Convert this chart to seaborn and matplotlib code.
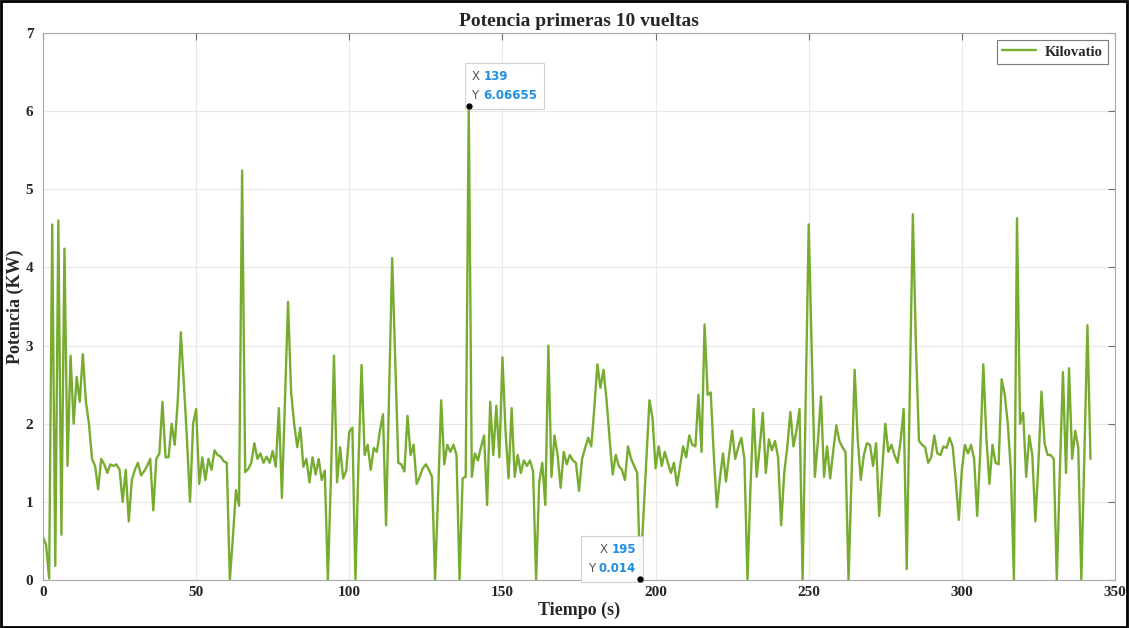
import numpy as np
import pandas as pd
import matplotlib
matplotlib.use("Agg")
import matplotlib.pyplot as plt
import seaborn as sns
from matplotlib.offsetbox import TextArea, HPacker, VPacker, AnnotationBbox
from matplotlib.patches import Rectangle

# Power sampled once per second over the first 10 laps
tiempo = np.arange(0, 343)
potencia = [
    0.55, 0.45, 0.02, 4.55, 0.18, 4.6, 0.58, 4.24, 1.46, 2.87,
    2.0, 2.6, 2.28, 2.89, 2.28, 2.0, 1.55, 1.46, 1.16, 1.55,
    1.48, 1.37, 1.48, 1.46, 1.48, 1.41, 1.0, 1.41, 0.75, 1.28,
    1.41, 1.5, 1.34, 1.39, 1.46, 1.55, 0.89, 1.55, 1.62, 2.28,
    1.57, 1.57, 2.0, 1.73, 2.3, 3.17, 2.5, 1.8, 1.0, 2.0,
    2.19, 1.23, 1.57, 1.28, 1.55, 1.41, 1.66, 1.6, 1.58, 1.52,
    1.5, 0.0, 0.55, 1.15, 0.95, 5.24, 1.38, 1.42, 1.5, 1.75,
    1.55, 1.62, 1.5, 1.58, 1.5, 1.65, 1.45, 2.2, 1.05, 2.3,
    3.56, 2.4, 2.0, 1.7, 1.95, 1.45, 1.55, 1.25, 1.57, 1.35,
    1.55, 1.28, 1.4, 0.0, 1.3, 2.87, 1.25, 1.7, 1.3, 1.4,
    1.9, 1.95, 0.0, 1.5, 2.75, 1.6, 1.73, 1.41, 1.69, 1.64,
    1.91, 2.12, 0.7, 2.4, 4.12, 2.8, 1.5, 1.48, 1.39, 2.1,
    1.6, 1.73, 1.23, 1.32, 1.43, 1.48, 1.41, 1.32, 0.0, 1.1,
    2.3, 1.48, 1.73, 1.64, 1.73, 1.6, 0.0, 1.3, 1.32, 6.06655,
    1.32, 1.62, 1.53, 1.7, 1.85, 0.96, 2.28, 1.6, 2.23, 1.57,
    2.85, 1.91, 1.3, 2.2, 1.32, 1.6, 1.37, 1.53, 1.46, 1.53,
    1.39, 0.0, 1.25, 1.5, 0.96, 3.0, 1.32, 1.85, 1.6, 1.18,
    1.64, 1.48, 1.6, 1.53, 1.5, 1.14, 1.55, 1.69, 1.82, 1.71,
    2.2, 2.76, 2.46, 2.69, 2.3, 1.8, 1.35, 1.6, 1.46, 1.41,
    1.28, 1.71, 1.55, 1.46, 1.37, 0.014, 0.8, 1.55, 2.3, 2.07,
    1.43, 1.71, 1.46, 1.64, 1.5, 1.37, 1.5, 1.21, 1.46, 1.71,
    1.57, 1.85, 1.73, 1.71, 2.37, 1.64, 3.27, 2.37, 2.4, 1.6,
    0.93, 1.3, 1.62, 1.26, 1.6, 1.91, 1.55, 1.7, 1.82, 1.55,
    0.0, 1.2, 2.19, 1.32, 1.7, 2.14, 1.37, 1.8, 1.66, 1.78,
    1.57, 0.7, 1.37, 1.7, 2.15, 1.71, 1.91, 2.19, 0.0, 2.3,
    4.55, 2.9, 1.32, 1.78, 2.35, 1.32, 1.71, 1.3, 1.65, 1.98,
    1.78, 1.7, 1.64, 0.0, 1.35, 2.69, 1.8, 1.28, 1.6, 1.75,
    1.73, 1.46, 1.75, 0.82, 1.4, 2.0, 1.64, 1.73, 1.6, 1.5,
    1.78, 2.19, 0.14, 2.4, 4.68, 3.0, 1.78, 1.73, 1.7, 1.5,
    1.57, 1.85, 1.62, 1.6, 1.71, 1.69, 1.82, 1.71, 1.28, 0.77,
    1.41, 1.73, 1.62, 1.73, 1.55, 0.82, 1.64, 2.76, 1.82, 1.23,
    1.73, 1.5, 1.48, 2.57, 2.37, 2.0, 1.4, 0.0, 4.63, 2.0,
    2.14, 1.32, 1.85, 1.6, 0.75, 1.5, 2.41, 1.75, 1.6, 1.6,
    1.55, 0.0, 1.4, 2.66, 1.37, 2.71, 1.55, 1.91, 1.7, 0.0,
    1.6, 3.26, 1.55,
]
# Highlighted samples (data tips)
tip_x = [139, 195]

x_ticks = [0, 50, 100, 150, 200, 250, 300, 350]
y_ticks = [0, 1, 2, 3, 4, 5, 6, 7]

sns.set_style("white")
plt.rcParams["font.family"] = ["Liberation Serif", "DejaVu Serif"]

fig = plt.figure(figsize=(11.29, 6.28), dpi=100)
ax = fig.add_axes([0.0381, 0.0764, 0.9495, 0.8711])

df = pd.DataFrame({"Tiempo": tiempo, "Potencia": potencia})
sns.lineplot(data=df, x="Tiempo", y="Potencia", ax=ax, color="#77AC30",
             linewidth=1.7, label="Kilovatio")

ax.set_xlim(0, 350)
ax.set_ylim(0, 7)
ax.set_xticks(x_ticks)
ax.set_yticks(y_ticks)
ax.grid(True, color="#e9e9e9", linewidth=0.8)
for s in ax.spines.values():
    s.set_color("#a8a8a8")
    s.set_linewidth(0.8)
ax.tick_params(direction="in", length=5, top=True, right=True,
               color="#6e6e6e", labelsize=11)
ax.tick_params(axis="y", pad=7)
ax.tick_params(axis="x", pad=4)
for lab in ax.get_xticklabels() + ax.get_yticklabels():
    lab.set_fontweight("bold")

ax.set_title("Potencia primeras 10 vueltas", fontsize=14, fontweight="bold", pad=5)
ax.set_xlabel("Tiempo (s)", fontsize=13, fontweight="bold", labelpad=2)
ax.set_ylabel("Potencia (KW)", fontsize=13, fontweight="bold", labelpad=1)

leg = ax.legend(loc="upper right", frameon=True, fancybox=False,
                edgecolor="#5a5a5a", handlelength=2.3, handletextpad=0.6,
                borderpad=0.35, prop={"weight": "bold", "size": 10.5})
leg.get_frame().set_linewidth(0.8)

# Data tips
tip_y = [potencia[list(tiempo).index(t)] for t in tip_x]

tip_font = dict(family=["DejaVu Sans"], size=8.5)
placements = [((0, 0), (2, 3), "left"), ((1, 0), (-3, 3), "right")]
for (tx, ty), (align_box, offset, align_txt) in zip(zip(tip_x, tip_y), placements):
    rows = []
    for name, val in (("X", f"{tx:g}"), ("Y", f"{ty:g}")):
        rows.append(HPacker(children=[
            TextArea(name, textprops=dict(color="#555555", **tip_font)),
            TextArea(val, textprops=dict(color="#1f8fe6", fontweight="bold", **tip_font)),
        ], align="baseline", pad=0, sep=3))
    box = VPacker(children=rows, align=align_txt, pad=0, sep=4)
    ab = AnnotationBbox(box, (tx, ty), xybox=offset, xycoords="data",
                        boxcoords="offset points", box_alignment=align_box,
                        frameon=True, pad=0.5,
                        bboxprops=dict(facecolor="white", edgecolor="#d0d0d0",
                                       linewidth=0.8, alpha=0.95))
    ab.set_zorder(6)
    ax.add_artist(ab)

ax.plot(tip_x, tip_y, "o", color="black", markersize=3.5, clip_on=False, zorder=8)

fig.add_artist(Rectangle((0.001, 0.002), 0.997, 0.996, transform=fig.transFigure,
                         fill=False, edgecolor="black", linewidth=2))

fig.savefig("out.png", dpi=100)
